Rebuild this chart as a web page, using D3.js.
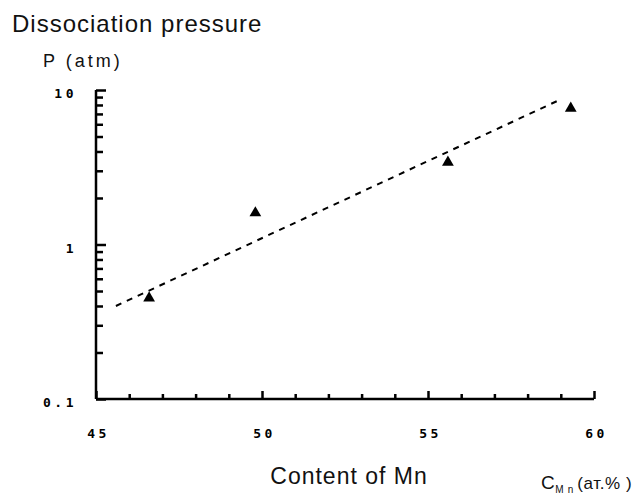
<!DOCTYPE html>
<html>
<head>
<meta charset="utf-8">
<script src="https://cdn.jsdelivr.net/npm/d3@7"></script>
<style>
  body { margin: 0; background: #fff; }
  svg { display: block; }
  .tick text { font-family: "DejaVu Sans Mono", "Liberation Mono", monospace; font-weight: bold; }
</style>
</head>
<body>
<div id="chart"></div>
<script>
// measured points (at.% Mn vs dissociation pressure, atm)
var mnContent = [46.6, 49.8, 55.6, 59.3];
var pressure = [0.45, 1.6, 3.4, 7.6];

// dashed fit line ends
var fitMn = [45.6, 59.0];
var fitP = [0.40, 8.7];

var xMajor = [45, 50, 55, 60];
var xMinor = [46, 47, 48, 49, 51, 52, 53, 54, 56, 57, 58, 59];
var yMajor = [0.1, 1, 10];
var yLabels = ["0.1", "1", "10"];
var yMinor = [0.2, 0.3, 0.4, 0.5, 0.6, 0.7, 0.8, 0.9, 2, 3, 4, 5, 6, 7, 8, 9];

var W = 639, H = 502;
var margin = {top: 90, right: 45, bottom: 103, left: 96};
var width = W - margin.left - margin.right;
var height = H - margin.top - margin.bottom;

var svg = d3.select("#chart").append("svg")
  .attr("width", W)
  .attr("height", H);

var g = svg.append("g")
  .attr("transform", "translate(" + margin.left + "," + margin.top + ")");

var x = d3.scaleLinear().domain([45, 60]).range([0, width]);
var y = d3.scaleLog().domain([0.1, 10]).range([height, 0]);

// y axis: minor ticks, then major with labels
g.append("g")
  .call(d3.axisLeft(y).tickValues(yMinor).tickSize(-7).tickFormat(""))
  .call(function(s) { s.select(".domain").remove(); });

g.append("g")
  .call(d3.axisLeft(y).tickValues(yMajor).tickSize(-10).tickPadding(19)
    .tickFormat(function(d, i) { return yLabels[i]; }))
  .call(function(s) {
    s.select(".domain").attr("d", "M0," + (height) + "V0");
    s.selectAll("text").attr("font-size", 13).attr("letter-spacing", 3.5).attr("dy", "0.6em");
  });

// x axis
g.append("g")
  .attr("transform", "translate(0," + height + ")")
  .call(d3.axisBottom(x).tickValues(xMinor).tickSize(-5).tickFormat(""))
  .call(function(s) { s.select(".domain").remove(); });

g.append("g")
  .attr("transform", "translate(0," + height + ")")
  .call(d3.axisBottom(x).tickValues(xMajor).tickSize(-8).tickPadding(38).tickFormat(d3.format("d")))
  .call(function(s) {
    s.select(".domain").attr("d", "M0,0H" + width);
    s.selectAll("text").attr("font-size", 13).attr("letter-spacing", 3.5).attr("dx", "0.15em").attr("dy", "0.1em");
  });

g.selectAll(".domain, .tick line").attr("stroke", "#000").attr("stroke-width", 2.5);
g.selectAll(".tick text").attr("fill", "#000");

// fit line
var line = d3.line()
  .x(function(d) { return x(d[0]); })
  .y(function(d) { return y(d[1]); });

g.append("path")
  .datum(d3.zip(fitMn, fitP))
  .attr("d", line)
  .attr("fill", "none")
  .attr("stroke", "#000")
  .attr("stroke-width", 2)
  .attr("stroke-dasharray", "6,6");

// triangles
g.selectAll(".pt")
  .data(d3.zip(mnContent, pressure))
  .enter().append("path")
  .attr("class", "pt")
  .attr("d", d3.symbol().type(d3.symbolTriangle).size(60))
  .attr("transform", function(d) { return "translate(" + x(d[0]) + "," + y(d[1]) + ")"; })
  .attr("fill", "#000");

// titles
var sans = "Arial, 'Liberation Sans', sans-serif";

svg.append("text")
  .attr("x", 12).attr("y", 32)
  .attr("font-family", sans)
  .attr("font-size", 24)
  .attr("letter-spacing", 1)
  .attr("fill", "#111")
  .text("Dissociation pressure");

svg.append("text")
  .attr("x", 43).attr("y", 67)
  .attr("font-family", sans)
  .attr("font-size", 18)
  .attr("letter-spacing", 3)
  .attr("fill", "#111")
  .text("P (atm)");

svg.append("text")
  .attr("x", 349).attr("y", 484)
  .attr("text-anchor", "middle")
  .attr("font-family", sans)
  .attr("font-size", 23)
  .attr("letter-spacing", 1)
  .attr("fill", "#111")
  .text("Content of Mn");

var unit = svg.append("text")
  .attr("x", 541).attr("y", 489)
  .attr("font-family", sans)
  .attr("font-size", 17)
  .attr("letter-spacing", 0.6)
  .attr("fill", "#111");
unit.append("tspan").attr("font-size", 19).text("C");
unit.append("tspan").attr("font-size", 10).attr("dy", 4).text("M n ");
unit.append("tspan").attr("dy", -4).text("(ат.% )");
</script>
</body>
</html>
